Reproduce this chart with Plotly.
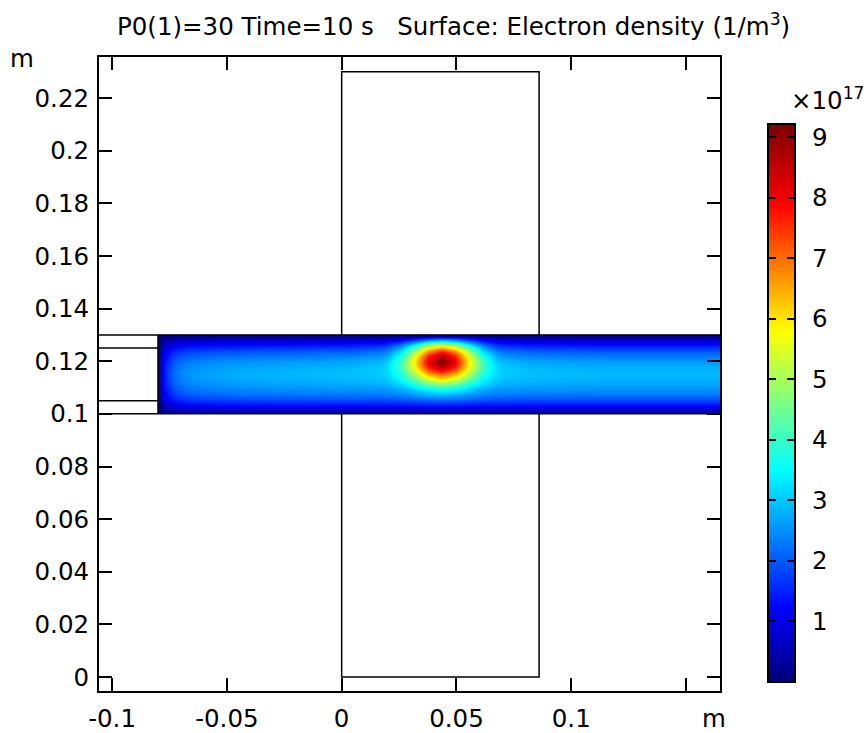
import plotly.graph_objects as go

# Axis ticks
x_tick_vals = [-0.1, -0.05, 0, 0.05, 0.1, 0.15]
x_tick_text = ["-0.1", "-0.05", "0", "0.05", "0.1", ""]
y_tick_vals = [0, 0.02, 0.04, 0.06, 0.08, 0.1, 0.12, 0.14, 0.16, 0.18, 0.2, 0.22]
y_tick_text = ["0", "0.02", "0.04", "0.06", "0.08", "0.1", "0.12", "0.14", "0.16", "0.18", "0.2", "0.22"]
cbar_ticks = [1, 2, 3, 4, 5, 6, 7, 8, 9]

# Geometry outlines (m)
cavity_x = [0, 0, 0.086, 0.086, None, 0, 0, 0.086, 0.086]
cavity_y = [0.1, 0, 0, 0.1, None, 0.13, 0.23, 0.23, 0.13]
channel_x = [-0.106, 0.165, None, -0.106, 0.165, None, -0.08, -0.08, None, -0.106, -0.08, None, -0.106, -0.08]
channel_y = [0.13, 0.13, None, 0.1, 0.1, None, 0.1, 0.13, None, 0.125, 0.125, None, 0.105, 0.105]

# Electron density field (units of 1e17 1/m^3)
x_edges = [-0.08, -0.0785, -0.0755, -0.072, -0.065, -0.045, -0.008, 0.0165, 0.0225, 0.0285,
           0.0345, 0.0405, 0.0465, 0.0525, 0.0585, 0.0645, 0.0705, 0.092, 0.137, 0.1648]
y_edges = [0.1, 0.101, 0.103, 0.105, 0.107, 0.109, 0.111, 0.113, 0.115, 0.117, 0.119, 0.121,
           0.123, 0.125, 0.127, 0.129, 0.13]
col_a = [.05, .11, .18, .24, .28, .31, .33, .34, .34, .33, .31, .28, .23, .17, .1, .05]
col_b = [.1, .45, .75, 1.0, 1.18, 1.3, 1.38, 1.43, 1.43, 1.38, 1.3, 1.15, .95, .7, .4, .1]
col_c = [.14, .65, 1.08, 1.44, 1.69, 1.87, 1.98, 2.05, 2.05, 1.98, 1.87, 1.66, 1.37, 1.01, .58, .14]
col_d = [.17, .77, 1.29, 1.72, 2.02, 2.24, 2.37, 2.45, 2.45, 2.37, 2.24, 1.98, 1.63, 1.2, .69, .17]
col_e = [.19, .85, 1.41, 1.88, 2.21, 2.44, 2.59, 2.68, 2.68, 2.59, 2.44, 2.16, 1.79, 1.32, .75, .19]
col_f = [.2, .89, 1.49, 1.98, 2.33, 2.57, 2.72, 2.82, 2.82, 2.72, 2.57, 2.28, 1.88, 1.39, .79, .2]
col_g = [.2, .9, 1.5, 2.01, 2.37, 2.63, 2.8, 2.92, 2.95, 2.84, 2.69, 2.39, 1.98, 1.46, .83, .2]
col_h = [.2, .9, 1.51, 2.02, 2.4, 2.69, 2.91, 3.09, 3.17, 3.14, 3.02, 2.71, 2.26, 1.68, .95, .22]
col_i = [.21, .91, 1.53, 2.08, 2.51, 2.9, 3.26, 3.62, 3.9, 4.03, 3.99, 3.65, 3.07, 2.32, 1.28, .26]
col_j = [.22, .93, 1.58, 2.18, 2.73, 3.31, 3.95, 4.67, 5.32, 5.75, 5.87, 5.48, 4.67, 3.56, 1.93, .33]
col_k = [.23, .95, 1.63, 2.3, 2.98, 3.79, 4.76, 5.9, 6.99, 7.77, 8.06, 7.62, 6.53, 5.01, 2.69, .42]
col_l = [.23, .96, 1.65, 2.36, 3.1, 4.01, 5.14, 6.47, 7.76, 8.75, 9.18, 8.7, 7.39, 5.68, 3.04, .46]
col_m = [.2, .9, 1.5, 2.0, 2.35, 2.6, 2.75, 2.85, 2.85, 2.75, 2.6, 2.3, 1.9, 1.4, .8, .2]
density_columns = [col_a, col_b, col_c, col_d, col_e, col_f, col_g, col_h, col_i, col_j, col_k,
                   col_l, col_k, col_j, col_i, col_h, col_g, col_m, col_m]
density = [list(row) for row in zip(*density_columns)]

# Colour scale
zmin, zmax = 0.008, 9.2
rainbow = [[0, "rgb(0,0,120)"], [0.13, "rgb(0,0,255)"], [0.38, "rgb(0,255,255)"],
           [0.505, "rgb(128,255,128)"], [0.63, "rgb(255,255,0)"], [0.858, "rgb(255,0,0)"],
           [1, "rgb(125,0,0)"]]
cbar_levels = [0.008, 1, 2, 3, 4, 5, 6, 7, 8, 9, 9.2]

W, H = 867, 733
FONT = "DejaVu Sans"
FS = 24.5
INK = "#000000"


def dx(a, b):
    return [a / W, b / W]


def dy(top, bottom):
    return [(H - bottom) / H, (H - top) / H]


fig = go.Figure()
fig.add_trace(go.Heatmap(x=x_edges, y=y_edges, z=density, zmin=zmin, zmax=zmax, zsmooth="best",
                         colorscale=rainbow, showscale=False, hoverinfo="skip"))
line = dict(color=INK, width=1.5)
fig.add_trace(go.Scatter(x=cavity_x, y=cavity_y, mode="lines", line=line, showlegend=False, hoverinfo="skip"))
fig.add_trace(go.Scatter(x=channel_x, y=channel_y, mode="lines", line=line, showlegend=False, hoverinfo="skip"))
fig.add_trace(go.Heatmap(x=[0, 1], y=cbar_levels, z=[[v, v] for v in cbar_levels], zmin=zmin, zmax=zmax,
                         zsmooth="best", colorscale=rainbow, showscale=False, hoverinfo="skip",
                         xaxis="x2", yaxis="y2"))

axis_common = dict(showgrid=False, zeroline=False, showline=True, linecolor=INK, linewidth=2,
                   mirror="ticks", ticks="inside", ticklen=13, tickwidth=2, tickcolor=INK,
                   tickfont=dict(family=FONT, size=FS, color=INK))

fig.update_layout(
    width=W, height=H, autosize=False, margin=dict(l=0, r=0, t=0, b=0, autoexpand=False),
    paper_bgcolor="white", plot_bgcolor="white", showlegend=False,
    font=dict(family=FONT, size=FS, color=INK),
    xaxis=dict(domain=dx(99, 720), range=[-0.1057, 0.1648], tickmode="array", tickvals=x_tick_vals,
               ticktext=x_tick_text, ticklabelstandoff=5, **axis_common),
    yaxis=dict(domain=dy(57, 691), range=[-0.0053, 0.2356], tickmode="array", tickvals=y_tick_vals,
               ticktext=y_tick_text, ticklabelstandoff=3, **axis_common),
    xaxis2=dict(domain=dx(769, 794), range=[0, 1], anchor="y2", showticklabels=False, ticks="",
                showgrid=False, zeroline=False, showline=True, linecolor=INK, linewidth=2, mirror=True),
    yaxis2=dict(domain=dy(125, 681), range=[zmin, zmax], anchor="x2", side="right", tickmode="array",
                tickvals=cbar_ticks, ticklabelstandoff=11, **{**axis_common, "ticklen": 7}),
    annotations=[
        dict(text="P0(1)=30 Time=10 s   Surface: Electron density (1/m<sup>3</sup>)", xref="paper", yref="paper",
             x=453 / W, y=(H - 25) / H, xanchor="center", yanchor="middle", showarrow=False,
             font=dict(family=FONT, size=FS, color=INK)),
        dict(text="m", xref="paper", yref="paper", x=22 / W, y=(H - 58) / H, xanchor="center", yanchor="middle",
             showarrow=False, font=dict(family=FONT, size=FS, color=INK)),
        dict(text="m", xref="paper", yref="paper", x=714 / W, y=(H - 718) / H, xanchor="center", yanchor="middle",
             showarrow=False, font=dict(family=FONT, size=FS, color=INK)),
        dict(text="×10<sup>17</sup>", xref="paper", yref="paper", x=828 / W, y=(H - 99) / H, xanchor="center",
             yanchor="middle", showarrow=False, font=dict(family=FONT, size=FS, color=INK)),
    ],
)

fig.write_html("out.html", config={"displayModeBar": False},
               post_script="document.body.style.margin='0';document.documentElement.style.overflow='hidden';")
